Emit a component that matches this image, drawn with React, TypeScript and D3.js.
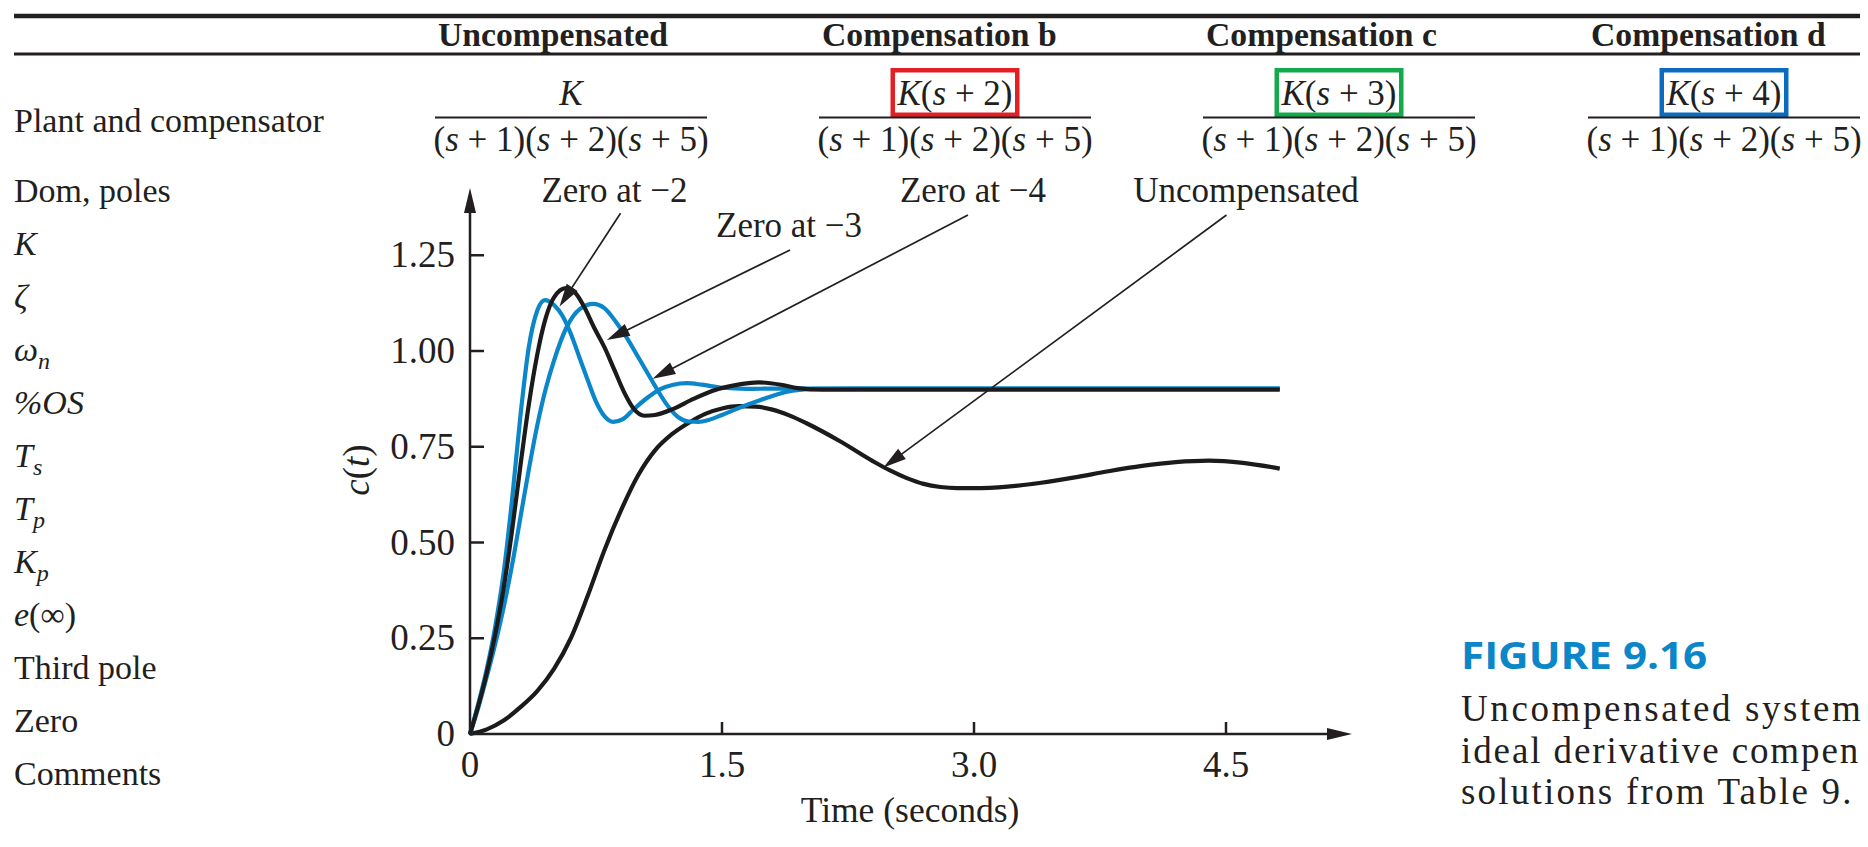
import React from 'react';
import * as d3 from 'd3';

// ---------- data ----------
const headerLabels = ['Uncompensated', 'Compensation b', 'Compensation c', 'Compensation d'];
const compensatorZeros = [null, '2', '3', '4'];
const denominatorText = ['1', '2', '5'];
const rowLabels = [
  { text: 'Dom, poles' },
  { text: 'K', italic: true },
  { text: 'ζ', italic: true },
  { text: 'ω', sub: 'n', italic: true },
  { text: '%OS', italic: true },
  { text: 'T', sub: 's', italic: true },
  { text: 'T', sub: 'p', italic: true },
  { text: 'K', sub: 'p', italic: true },
  { text: 'e', rest: '(∞)', italic: true },
  { text: 'Third pole' },
  { text: 'Zero' },
  { text: 'Comments' },
];

const uncompensated: [number, number][] = [
  [0, 0], [0.1, 0.012], [0.2, 0.035], [0.3, 0.07], [0.4, 0.112], [0.5, 0.17], [0.6, 0.25],
  [0.7, 0.36], [0.8, 0.48], [0.9, 0.585], [1.0, 0.675], [1.1, 0.74], [1.2, 0.782], [1.3, 0.812],
  [1.4, 0.836], [1.5, 0.85], [1.6, 0.856], [1.7, 0.855], [1.8, 0.847], [1.9, 0.832], [2.0, 0.812],
  [2.2, 0.765], [2.4, 0.712], [2.5, 0.688], [2.6, 0.668], [2.7, 0.653], [2.8, 0.645], [2.9, 0.642],
  [3.0, 0.642], [3.2, 0.646], [3.4, 0.656], [3.6, 0.67], [3.8, 0.686], [4.0, 0.7], [4.2, 0.71],
  [4.4, 0.714], [4.6, 0.708], [4.82, 0.693],
];
const zeroAt2: [number, number][] = [
  [0, 0], [0.05, 0.08], [0.1, 0.17], [0.15, 0.28], [0.2, 0.42], [0.25, 0.61], [0.3, 0.83], [0.35, 1.01],
  [0.4, 1.105], [0.446, 1.133], [0.5, 1.12], [0.55, 1.092], [0.6, 1.045], [0.65, 0.985], [0.7, 0.925],
  [0.75, 0.868], [0.8, 0.83], [0.853, 0.815], [0.91, 0.822], [0.97, 0.846], [1.05, 0.876], [1.13, 0.9],
  [1.21, 0.912], [1.29, 0.916], [1.38, 0.912], [1.5, 0.904], [1.65, 0.901], [1.8, 0.902], [2.0, 0.902],
  [2.5, 0.902], [3.0, 0.902], [3.5, 0.902], [4.0, 0.902], [4.5, 0.902], [4.82, 0.902],
];
const zeroAt3: [number, number][] = [
  [0, 0], [0.05, 0.075], [0.1, 0.16], [0.15, 0.26], [0.2, 0.38], [0.25, 0.53], [0.3, 0.7], [0.35, 0.86],
  [0.4, 0.99], [0.45, 1.085], [0.5, 1.14], [0.571, 1.164], [0.62, 1.155], [0.68, 1.115], [0.74, 1.06],
  [0.8, 1.01], [0.86, 0.95], [0.92, 0.89], [0.97, 0.852], [1.04, 0.831], [1.1, 0.833], [1.2, 0.847],
  [1.33, 0.875], [1.45, 0.897], [1.58, 0.911], [1.72, 0.918], [1.85, 0.912], [1.95, 0.903], [2.1, 0.899],
  [2.5, 0.899], [3.0, 0.899], [3.5, 0.899], [4.0, 0.899], [4.5, 0.899], [4.82, 0.899],
];
const zeroAt4: [number, number][] = [
  [0, 0], [0.05, 0.07], [0.1, 0.15], [0.15, 0.235], [0.2, 0.33], [0.25, 0.44], [0.3, 0.565], [0.35, 0.69],
  [0.4, 0.805], [0.45, 0.9], [0.5, 0.975], [0.575, 1.062], [0.655, 1.11], [0.734, 1.123], [0.8, 1.112],
  [0.87, 1.075], [0.93, 1.037], [1.0, 0.985], [1.06, 0.94], [1.12, 0.895], [1.18, 0.855], [1.24, 0.827],
  [1.3, 0.816], [1.36, 0.815], [1.42, 0.82], [1.5, 0.833], [1.6, 0.851], [1.73, 0.872], [1.88, 0.893],
  [2.05, 0.901], [2.3, 0.902], [3.0, 0.902], [3.5, 0.902], [4.0, 0.902], [4.5, 0.902], [4.82, 0.902],
];

const xTicks = [0, 1.5, 3.0, 4.5];
const xTickLabels = ['0', '1.5', '3.0', '4.5'];
const yTicks = [0, 0.25, 0.5, 0.75, 1.0, 1.25];
const yTickLabels = ['0', '0.25', '0.50', '0.75', '1.00', '1.25'];

// annotation: label, text anchor (t,c), line start (t,c), arrow tip (t,c)
const annotations = [
  { label: 'Zero at −2', text: [0.86, 1.39], from: [0.896, 1.3595], to: [0.533, 1.116] },
  { label: 'Zero at −3', text: [1.899, 1.2985], from: [1.905, 1.2637], to: [0.815, 1.0287] },
  { label: 'Zero at −4', text: [2.994, 1.39], from: [2.964, 1.355], to: [1.087, 0.9274] },
  { label: 'Uncompensated', text: [4.619, 1.39], from: [4.503, 1.355], to: [2.461, 0.6958] },
];

const captionTitle = 'FIGURE 9.16';
const captionLines = ['Uncompensated system', 'ideal derivative compen', 'solutions from Table 9.'];

// ---------- layout / style ----------
const W = 1868;
const H = 847;
const FONT = '"Liberation Serif", "Times New Roman", serif';
const INK = '#231f20';
const BLUE = '#0a86c9';
const BOX_COLORS = [null, '#e31e24', '#14a94b', '#0b6cbf'];
const colLeft = [435, 819, 1203, 1588];
const fracWidth = 272;
const captionSpacing = [2.6, 1.9, 2.2];

function T({ x, y, sx = 1, size = 34, anchor = 'start', italic = false, weight = 'normal', fill = INK, family = FONT, rotate = 0, spacing = 0, children }: any) {
  const tr = `translate(${x},${y})` + (rotate ? ` rotate(${rotate})` : '') + (sx !== 1 ? ` scale(${sx},1)` : '');
  return (
    <text transform={tr} textAnchor={anchor} fontSize={size} fontStyle={italic ? 'italic' : 'normal'}
      fontWeight={weight} fill={fill} fontFamily={family} letterSpacing={spacing || undefined}>
      {children}
    </text>
  );
}

function Factor({ k }: { k: string }) {
  return (
    <>
      (<tspan fontStyle="italic">s</tspan> + {k})
    </>
  );
}

export default function App() {
  const x = d3.scaleLinear().domain([0, 5.25]).range([470, 1352]);
  const y = d3.scaleLinear().domain([0, 1]).range([734, 351]);
  const yTop = 1.4256;
  const line = d3.line<[number, number]>().x(d => x(d[0])).y(d => y(d[1])).curve(d3.curveMonotoneX);

  const arrowHead = (x1: number, y1: number, x2: number, y2: number, len: number, half: number) => {
    const dx = x2 - x1, dy = y2 - y1;
    const L = Math.hypot(dx, dy);
    const ux = dx / L, uy = dy / L;
    const bx = x2 - ux * len, by = y2 - uy * len;
    return `${x2},${y2} ${bx - uy * half},${by + ux * half} ${bx + uy * half},${by - ux * half}`;
  };

  const x0 = x(0), y0 = y(0);
  const xEnd = x(5.25), yEnd = y(yTop);

  return (
    <svg width={W} height={H} viewBox={`0 0 ${W} ${H}`}
      style={{ position: 'absolute', left: 0, top: 0, background: '#fff', overflow: 'hidden' }}>
      <rect x={0} y={0} width={W} height={H} fill="#fff" />

      {/* table rules */}
      <line x1={14} x2={1860} y1={16} y2={16} stroke={INK} strokeWidth={4.5} />
      <line x1={14} x2={1860} y1={54} y2={54} stroke={INK} strokeWidth={3} />

      {/* headers */}
      {headerLabels.map((h, i) => (
        <T key={h} x={colLeft[i] + 3} y={46} size={33} sx={1.02} weight="bold">{h}</T>
      ))}

      {/* plant and compensator */}
      <T x={14} y={132}>Plant and compensator</T>
      {compensatorZeros.map((z, i) => {
        const cx = colLeft[i] + fracWidth / 2;
        return (
          <g key={i}>
            <T x={cx} y={105} size={35} anchor="middle">
              <tspan fontStyle="italic">K</tspan>
              {z ? <Factor k={z} /> : null}
            </T>
            {z && BOX_COLORS[i] ? (
              <rect x={cx - 62.25} y={70.25} width={124.5} height={44.5} fill="none"
                stroke={BOX_COLORS[i] as string} strokeWidth={4.5} />
            ) : null}
            <line x1={colLeft[i]} x2={colLeft[i] + fracWidth} y1={117.5} y2={117.5} stroke={INK} strokeWidth={2} />
            <T x={cx} y={151} size={35} anchor="middle">
              {denominatorText.map(k => <Factor key={k} k={k} />)}
            </T>
          </g>
        );
      })}

      {/* row labels */}
      {rowLabels.map((r: any, i) => (
        <T key={i} x={14} y={202 + i * 53} italic={!!r.italic}>
          {r.text}
          {r.sub ? <tspan fontSize={24} dy={8}>{r.sub}</tspan> : null}
          {r.rest ? <tspan fontStyle="normal">{r.rest}</tspan> : null}
        </T>
      ))}

      {/* curves */}
      <path d={line(uncompensated) as string} fill="none" stroke="#1b1b1b" strokeWidth={4.2} strokeLinejoin="round" />
      <path d={line(zeroAt4) as string} fill="none" stroke={BLUE} strokeWidth={4.2} strokeLinejoin="round" />
      <path d={line(zeroAt2) as string} fill="none" stroke={BLUE} strokeWidth={4.2} strokeLinejoin="round" />
      <path d={line(zeroAt3) as string} fill="none" stroke="#1b1b1b" strokeWidth={4.2} strokeLinejoin="round" />

      {/* axes */}
      <line x1={x0} x2={x0} y1={y0 + 1} y2={yEnd + 20} stroke={INK} strokeWidth={2.5} />
      <polygon points={`${x0},${yEnd} ${x0 - 6},${yEnd + 25} ${x0 + 6},${yEnd + 25}`} fill={INK} />
      <line x1={x0 - 1} x2={xEnd - 20} y1={y0} y2={y0} stroke={INK} strokeWidth={2.5} />
      <polygon points={`${xEnd},${y0} ${xEnd - 25},${y0 - 6} ${xEnd - 25},${y0 + 6}`} fill={INK} />

      {yTicks.map((v, i) => (
        <g key={v}>
          {v !== 0 ? <line x1={x0} x2={x0 + 14} y1={y(v)} y2={y(v)} stroke={INK} strokeWidth={2.5} /> : null}
          <T x={x0 - 15} y={y(v) + 12} anchor="end" size={37}>{yTickLabels[i]}</T>
        </g>
      ))}
      {xTicks.map((v, i) => (
        <g key={v}>
          {v !== 0 ? <line x1={x(v)} x2={x(v)} y1={y0} y2={y0 - 12} stroke={INK} strokeWidth={2.5} /> : null}
          <T x={x(v)} y={777} anchor="middle" size={37}>{xTickLabels[i]}</T>
        </g>
      ))}
      <T x={910} y={822} anchor="middle" size={35.5}>Time (seconds)</T>
      <T x={369} y={470} anchor="middle" rotate={-90} size={37}>
        <tspan fontStyle="italic">c</tspan>(<tspan fontStyle="italic">t</tspan>)
      </T>

      {/* annotations */}
      {annotations.map(a => {
        const x1 = x(a.from[0]), y1 = y(a.from[1]);
        const x2 = x(a.to[0]), y2 = y(a.to[1]);
        return (
          <g key={a.label}>
            <T x={x(a.text[0])} y={y(a.text[1])} anchor="middle" size={35}>{a.label}</T>
            <line x1={x1} y1={y1} x2={x2 + (x1 - x2) * 0.05} y2={y2 + (y1 - y2) * 0.05} stroke={INK} strokeWidth={1.7} />
            <polygon points={arrowHead(x1, y1, x2, y2, 23, 6.5)} fill={INK} />
          </g>
        );
      })}

      {/* caption */}
      <T x={1461} y={669} size={37} sx={1.14} weight="bold" fill="#0b86c8" family='"Open Sans", "Noto Sans", sans-serif'>
        {captionTitle}
      </T>
      {captionLines.map((l, i) => (
        <T key={l} x={1461} y={721 + i * 41.5} size={37} spacing={captionSpacing[i]}>{l}</T>
      ))}
    </svg>
  );
}
